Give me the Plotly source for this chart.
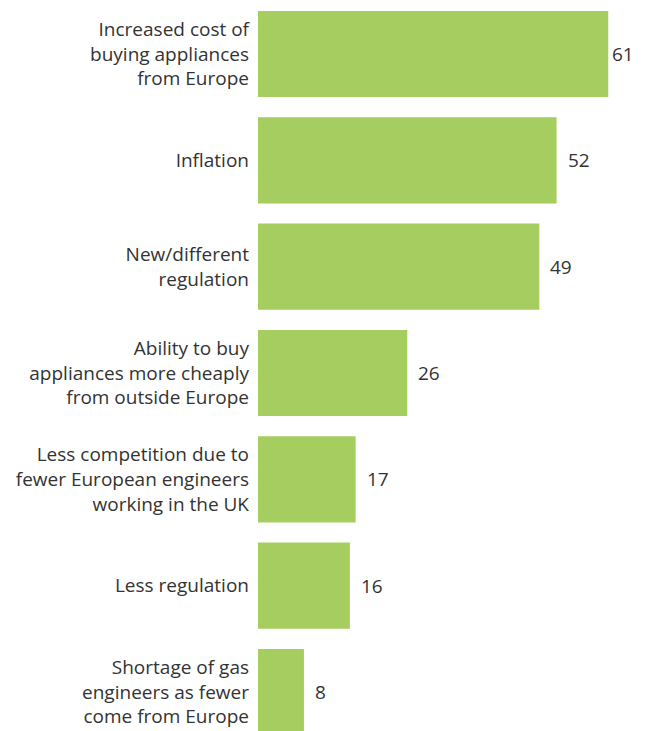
import plotly.graph_objects as go

# Survey responses: expected drivers of price changes (number of respondents)
categories = [
    "Increased cost of<br>buying appliances<br>from Europe",
    "Inflation",
    "New/different<br>regulation",
    "Ability to buy<br>appliances more cheaply<br>from outside Europe",
    "Less competition due to<br>fewer European engineers<br>working in the UK",
    "Less regulation",
    "Shortage of gas<br>engineers as fewer<br>come from Europe",
]
values = [61, 52, 49, 26, 17, 16, 8]

BAR_COLOR = "#a5cd5f"
TEXT_COLOR = "#333333"
FONT = "'Open Sans', Lato, sans-serif"

positions = list(range(len(categories)))

fig = go.Figure(
    go.Bar(
        x=values,
        y=positions,
        orientation="h",
        marker=dict(color=BAR_COLOR, line=dict(width=0)),
        hoverinfo="skip",
    )
)

# Value labels just beyond the end of each bar
max_val = max(values)
for pos, val in zip(positions, values):
    fig.add_annotation(
        x=val,
        y=pos,
        text=str(val),
        showarrow=False,
        xanchor="left",
        yanchor="middle",
        xshift=2 if val == max_val else 9,
        font=dict(family=FONT, size=19, color=TEXT_COLOR),
    )

fig.update_layout(
    width=645,
    height=731,
    margin=dict(l=258, r=0, t=0, b=0),
    paper_bgcolor="white",
    plot_bgcolor="white",
    bargap=0.19,
    showlegend=False,
    font=dict(family=FONT, size=19, color=TEXT_COLOR),
    xaxis=dict(
        range=[0, 67.4],
        visible=False,
        fixedrange=True,
    ),
    yaxis=dict(
        range=[6.367, -0.508],
        tickmode="array",
        tickvals=positions,
        ticktext=categories,
        showgrid=False,
        zeroline=False,
        showline=False,
        ticks="",
        ticklabelstandoff=8,
        tickfont=dict(family=FONT, size=19, color=TEXT_COLOR),
        fixedrange=True,
    ),
)

fig.write_html("out.html")
